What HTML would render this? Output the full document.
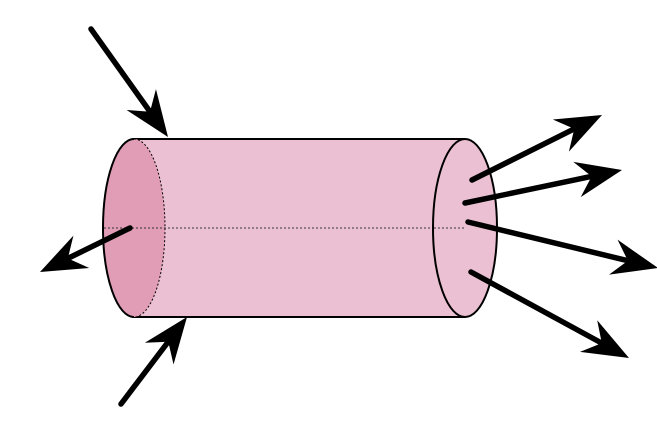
<!DOCTYPE html>
<html><head><meta charset="utf-8"><style>html,body{margin:0;padding:0;background:#fff}svg{display:block}</style></head>
<body>
<svg id="svg" width="657" height="438" viewBox="0 0 657 438" xmlns="http://www.w3.org/2000/svg">
<g>
<path d="M134,139 L465,139 L465,317 L134,317 Z" fill="#ecc0d3"/>
<line x1="134" y1="139" x2="465" y2="139" stroke="#000" stroke-width="2"/>
<line x1="134" y1="317" x2="465" y2="317" stroke="#000" stroke-width="2"/>
<ellipse cx="134" cy="228" rx="31" ry="89" fill="#e29db6"/>
<path d="M134,139 A31,89 0 0 0 134,317" fill="none" stroke="#000" stroke-width="2"/>
<path d="M134,139 A31,89 0 0 1 134,317" fill="none" stroke="#000" stroke-width="1" stroke-dasharray="2,2"/>
<line x1="104" y1="228" x2="465" y2="228" stroke="#333" stroke-width="1" stroke-dasharray="2,2"/>
<ellipse cx="465" cy="228" rx="32" ry="89" fill="#ecc0d3" stroke="#000" stroke-width="2"/>
<line x1="434" y1="228" x2="466" y2="228" stroke="#333" stroke-width="1" stroke-dasharray="2,2"/>
</g>
<g id="arrows"></g>
</svg>
<script>
const arrowNames = ["incoming-arrow-top","incoming-arrow-bottom","outgoing-arrow-left","outgoing-arrow-1","outgoing-arrow-2","outgoing-arrow-3","outgoing-arrow-4"];
const arrowStarts = [[91,29],[121,404],[130,228],[472,180],[465,203],[468,222],[471,272]];
const arrowTips = [[168,137],[187,317],[40,272],[602,115],[622,170],[658,268],[629,358]];
const NS = "http://www.w3.org/2000/svg";
const g = document.getElementById("arrows");
for (let i = 0; i < arrowNames.length; i++) {
  const [x1,y1] = arrowStarts[i], [x2,y2] = arrowTips[i];
  const dx = x2-x1, dy = y2-y1, L = Math.hypot(dx,dy);
  const ux = dx/L, uy = dy/L, px = -uy, py = ux;
  const len = 46, notch = 31, hw = 18;
  const nx = x2 - ux*notch, ny = y2 - uy*notch;
  const line = document.createElementNS(NS,"line");
  
  
  line.setAttribute("x1",x1); line.setAttribute("y1",y1);
  line.setAttribute("x2",nx+ux*2); line.setAttribute("y2",ny+uy*2);
  line.setAttribute("stroke","#000"); line.setAttribute("stroke-width","5.5"); line.setAttribute("stroke-linecap","round");
  g.appendChild(line);
  const bx = x2 - ux*len, by = y2 - uy*len;
  const head = document.createElementNS(NS,"polygon");
  
  
  head.setAttribute("points", `${x2},${y2} ${bx+px*hw},${by+py*hw} ${nx},${ny} ${bx-px*hw},${by-py*hw}`);
  head.setAttribute("fill","#000");
  g.appendChild(head);
}
</script>
</body></html>
